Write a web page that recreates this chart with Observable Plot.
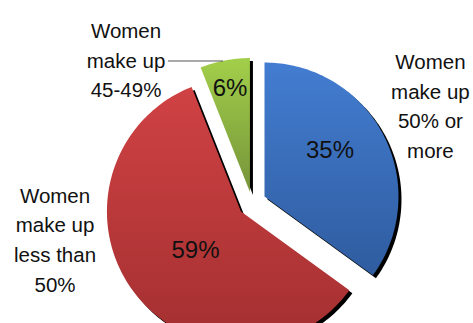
<!DOCTYPE html>
<html>
<head>
<meta charset="utf-8">
<script src="https://cdn.jsdelivr.net/npm/d3@7"></script>
<script src="https://cdn.jsdelivr.net/npm/@observablehq/plot@0.6"></script>
<style>
  html, body { margin: 0; padding: 0; background: #fff; }
  #chart svg { display: block; }
</style>
</head>
<body>
<div id="chart"></div>
<script>
// ---- data ----
const categories = ["Women make up 50% or more", "Women make up less than 50%", "Women make up 45-49%"];
const labelLines = ["Women\nmake up\n50% or\nmore", "Women\nmake up\nless than\n50%", "Women\nmake up\n45-49%"];
const values = [35, 59, 6];

// ---- layout ----
const W = 473, H = 323;
const center = [251.5, 202.4];
const radius = 134;
const explode = [14, 14, 11];
const pctRadius = [80, 60, 106];            // where the % label sits, from its slice apex
const pctAngleShift = [-8, -3, 0];          // degrees relative to slice mid-angle
const outerLabelAngle = [61, 260, 319];     // degrees, clockwise from 12 o'clock
const outerLabelRadius = [204, 200, 192];
const gradIds = ["gBlue", "gRed", "gGreen"];
const gradStops = [["#437dd1", "#2f5c9f"], ["#d04244", "#a32f30"], ["#a2cf4a", "#76943a"]];

const pie = d3.pie().sort(null).value(d => d)(values);
const rad = a => a * Math.PI / 180;
const polar = (c, r, a) => [c[0] + r * Math.sin(a), c[1] - r * Math.cos(a)];

const slices = pie.map((p, i) => {
  const mid = (p.startAngle + p.endAngle) / 2;
  const apex = polar(center, explode[i], mid);
  return {i, name: categories[i], value: values[i], start: p.startAngle, end: p.endAngle, mid, apex};
});

// polygon points for each slice
const pts = [];
for (const s of slices) {
  pts.push({key: s.i, x: s.apex[0], y: s.apex[1]});
  const n = Math.max(8, Math.ceil((s.end - s.start) / 0.02));
  for (let k = 0; k <= n; k++) {
    const a = s.start + (s.end - s.start) * k / n;
    const [x, y] = polar(s.apex, radius, a);
    pts.push({key: s.i, x, y});
  }
}

const pctLabels = slices.map(s => {
  const [x, y] = polar(s.apex, pctRadius[s.i], s.mid + rad(pctAngleShift[s.i]));
  return {x, y, text: s.value + "%"};
});
const outerLabels = slices.map(s => {
  const [x, y] = polar(center, outerLabelRadius[s.i], rad(outerLabelAngle[s.i]));
  return {x, y, text: labelLines[s.i]};
});
// leader line from the 45-49% label to the green slice
const g = outerLabels[2];
const leader = [{x1: g.x + 42, y1: g.y + 3, x2: g.x + 97, y2: g.y + 3}];

const font = "'Liberation Sans', Arial, sans-serif";

const marks = [];
// shadows
marks.push(Plot.line(pts, {x: "x", y: "y", z: "key", fill: "#000", stroke: "none", dx: 3, dy: 3}));
// slices
slices.forEach(s => {
  marks.push(Plot.line(pts.filter(p => p.key === s.i), {x: "x", y: "y", fill: `url(#${gradIds[s.i]})`, stroke: "none"}));
});
marks.push(Plot.link(leader, {x1: "x1", y1: "y1", x2: "x2", y2: "y2", stroke: "#555", strokeWidth: 1}));
marks.push(Plot.text(pctLabels, {x: "x", y: "y", text: "text", fontSize: 24, fill: "#111", fontFamily: font}));
marks.push(Plot.text(outerLabels, {x: "x", y: "y", text: "text", fontSize: 20.5, lineHeight: 1.45, fill: "#111", fontFamily: font}));

const chart = Plot.plot({
  width: W, height: H,
  margin: 0,
  style: {background: "#fff", fontFamily: font},
  x: {domain: [0, W], range: [0, W], axis: null},
  y: {domain: [0, H], range: [0, H], axis: null},
  marks
});

// gradient definitions
const ns = "http://www.w3.org/2000/svg";
const defs = document.createElementNS(ns, "defs");
gradIds.forEach((id, i) => {
  const lg = document.createElementNS(ns, "linearGradient");
  lg.setAttribute("id", id);
  lg.setAttribute("x1", "0"); lg.setAttribute("y1", "0");
  lg.setAttribute("x2", "0"); lg.setAttribute("y2", "1");
  gradStops[i].forEach((c, j) => {
    const st = document.createElementNS(ns, "stop");
    st.setAttribute("offset", j ? "1" : "0");
    st.setAttribute("stop-color", c);
    lg.appendChild(st);
  });
  defs.appendChild(lg);
});
chart.insertBefore(defs, chart.firstChild);
document.getElementById("chart").appendChild(chart);
</script>
</body>
</html>
